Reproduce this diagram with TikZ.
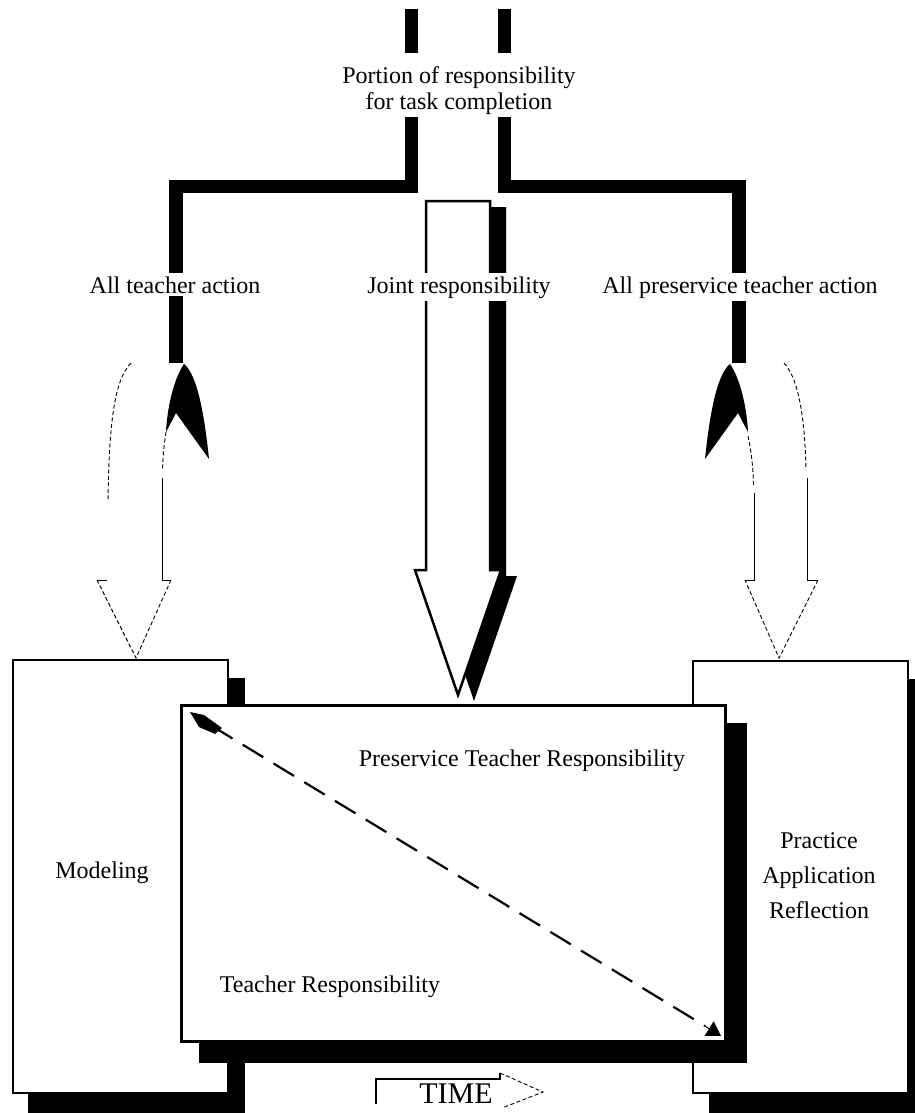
\documentclass[tikz,border=0pt]{standalone}
\usepackage{fontspec}
\setmainfont{Liberation Serif}
\usetikzlibrary{arrows.meta}
\begin{document}
\begin{tikzpicture}[x=1pt,y=-1pt,
  bar/.style={line width=13.5pt, line join=miter},
  lbl/.style={font=\fontsize{24}{26}\selectfont, inner sep=0pt},
  gaplbl/.style={lbl, fill=white, inner xsep=1pt, inner ysep=3pt},
  thinline/.style={line width=0.9pt},
  dashline/.style={line width=0.9pt, dash pattern=on 4pt off 2.5pt},
  panel/.style={draw=black, fill=white, line width=2pt, inner sep=0pt},
  midpanel/.style={draw=black, fill=white, line width=3pt, inner sep=0pt},
  blockarrow/.style={draw=black, fill=white, line width=2.5pt, line join=miter},
  diag/.style={line width=2.2pt, dash pattern=on 24pt off 12pt},
]
\useasboundingbox (0,0) rectangle (915,1113);

% ---------- thick bars from the title ----------
\coordinate (lt0) at (411.5,9);   \coordinate (lt1) at (411.5,53);
\coordinate (lt2) at (411.5,117); \coordinate (lc1) at (411.5,186.5);
\coordinate (lc2) at (176,186.5); \coordinate (lend) at (176,363);
\coordinate (rt0) at (504.5,9);   \coordinate (rt1) at (504.5,53);
\coordinate (rt2) at (504.5,117); \coordinate (rc1) at (504.5,186.5);
\coordinate (rc2) at (739,186.5); \coordinate (rend) at (739,363);
\draw[bar] (lt0) -- (lt1);
\draw[bar] (lt2) -- (lc1) -- (lc2) -- (lend);
\draw[bar] (rt0) -- (rt1);
\draw[bar] (rt2) -- (rc1) -- (rc2) -- (rend);

\node[lbl, align=center, anchor=north] (title) at (459,66.6)
  {Portion of responsibility\\for task completion};

% ---------- joint responsibility block arrow ----------
\fill[shift={(16,6)}] (426,201) -- (490,201) -- (490,570) -- (501,570)
  -- (458,695) -- (415,570) -- (426,570) -- cycle;
\draw[blockarrow] (426,201) -- (490,201) -- (490,570) -- (501,570)
  -- (458,695) -- (415,570) -- (426,570) -- cycle;

% ---------- labels on the bars ----------
\node[gaplbl, anchor=base] (allT) at (175,293) {All teacher action};
\node[gaplbl, anchor=base] (joint) at (459,293) {Joint responsibility};
\node[gaplbl, anchor=base] (allP) at (740,293) {All preservice teacher action};

% ---------- left curved arrow ----------
\fill (184,364) .. controls (173,380) and (167,410) .. (166,432)
  -- (176,413) -- (209,459) .. controls (205,420) and (198,375) .. (184,364) -- cycle;
\draw[dashline] (131,363) .. controls (114,380) and (109,425) .. (108,502);
\draw[dashline] (166,432) .. controls (164,445) and (163,455) .. (162.5,470);
\draw[thinline] (162,478) -- (162,580) -- (171,580);
\draw[dashline] (171,580) -- (136,658) -- (97,580);
\draw[thinline] (97,580) -- (107,580);

% ---------- right curved arrow ----------
\fill (730,364) .. controls (741,380) and (747,410) .. (748,432)
  -- (738,413) -- (705,459) .. controls (709,420) and (716,375) .. (730,364) -- cycle;
\draw[dashline] (784,363) .. controls (800,380) and (805,425) .. (806,470);
\draw[thinline] (807,478) -- (807,580) -- (818,580);
\draw[dashline] (818,580) -- (779,658) -- (745,580);
\draw[thinline] (745,580) -- (754,580) -- (754,493);
\draw[dashline] (753.5,485) .. controls (753,465) and (751,450) .. (748,436);

% ---------- panels ----------
\fill (28,678) rectangle (245,1113);
\node[panel, minimum width=215pt, minimum height=433pt, anchor=north west] (model) at (12,659) {};
\fill (709,679) rectangle (915,1113);
\node[panel, minimum width=215pt, minimum height=432pt, anchor=north west] (prac) at (692,660) {};
\fill (199,723) rectangle (747,1063);
\node[midpanel, minimum width=544pt, minimum height=336pt, anchor=north west] (mid) at (180,704) {};

% ---------- texts in panels ----------
\node[lbl, anchor=base] (modl) at (102,878) {Modeling};
\node[lbl, align=center, anchor=north, font=\fontsize{24}{35}\selectfont] (parl) at (819,832)
  {Practice\\Application\\Reflection};
\node[lbl, anchor=base] (pstr) at (522,766) {Preservice Teacher Responsibility};
\node[lbl, anchor=base] (tr) at (330,992) {Teacher Responsibility};

% ---------- diagonal arrow ----------
\coordinate (dA) at (190,712);
\coordinate (dA2) at (212,726);
\coordinate (dB) at (721,1036);
\coordinate (dB2) at (705,1026);
\draw[diag] (dA2) -- (dB2);
\fill (dA) -- (204,715) -- (222,728) -- (215,734) -- (199,727) -- cycle;
\draw[line width=1pt, -{Triangle[length=14pt,width=17pt]}] (dB2) -- (dB);

% ---------- TIME ----------
\node[font=\fontsize{30}{32}\selectfont, inner sep=0pt, anchor=base] (time) at (456,1103) {TIME};
\coordinate (t0) at (376,1104);
\coordinate (t1) at (500,1073);
\draw[line width=1.3pt] (t0) -- (376,1079) -- (500,1079) -- (t1);
\draw[dashline] (t1) -- (543,1092) -- (502,1108);
\end{tikzpicture}
\end{document}
